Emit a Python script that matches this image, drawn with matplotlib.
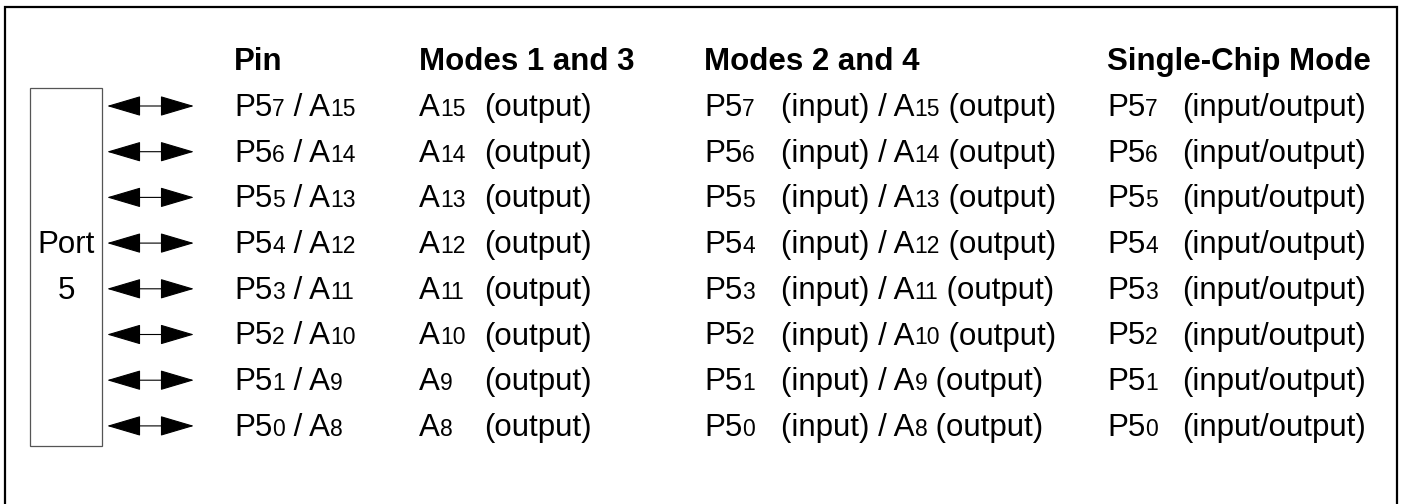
import matplotlib
matplotlib.use("Agg")
import matplotlib.pyplot as plt
from matplotlib.patches import Rectangle

plt.rcParams['font.family'] = ['Liberation Sans', 'DejaVu Sans']

# table content
headers = ["Pin", "Modes 1 and 3", "Modes 2 and 4", "Single-Chip Mode"]
pin_bits = ["7", "6", "5", "4", "3", "2", "1", "0"]
addr_bits = ["15", "14", "13", "12", "11", "10", "9", "8"]
port_label = ["Port", "5"]

W, H = 1402, 504
BIG, SMALL = 22.5, 16.5

fig = plt.figure(figsize=(W / 100, H / 100), dpi=100)
ax = fig.add_axes([0, 0, 1, 1])
ax.set_xlim(0, W)
ax.set_ylim(H, 0)
ax.axis('off')
renderer = fig.canvas.get_renderer()


def runs(x, y, parts, weight='normal'):
    # draw text pieces one after another; small pieces act as the
    # "subscript" digits (same baseline, smaller size)
    for s, size in parts:
        t = ax.text(x, y, s, fontsize=size, fontweight=weight,
                    va='baseline', ha='left', color='black')
        x += t.get_window_extent(renderer).width
    return x


# outer frame (open at the bottom)
ax.plot([5, 5, 1397, 1397], [H + 5, 7, 7, H + 5], color='black', lw=1.6,
        solid_joinstyle='miter')

# port box
ax.add_patch(Rectangle((30, 88), 72, 358, fill=False, ec='#555555', lw=0.9))

col_x = [234, 419, 704, 1107]
head_y = 70
row0, dy = 116, 45.7

for x, h in zip(col_x, headers):
    runs(x, head_y, [(h, BIG)], weight='bold')

for i, (b, a) in enumerate(zip(pin_bits, addr_bits)):
    y = row0 + i * dy
    # arrow
    ya = y - 10
    ax.annotate('', xy=(194, ya), xytext=(107, ya),
                arrowprops=dict(arrowstyle='<|-|>,head_length=22,head_width=6.5',
                                mutation_scale=1, lw=0.8, color='black',
                                shrinkA=0, shrinkB=0))
    runs(col_x[0], y, [("P5", BIG), (b, SMALL), (" / A", BIG), (a, SMALL)])
    runs(col_x[1], y, [("A", BIG), (a, SMALL)])
    runs(484, y, [("(output)", BIG)])
    runs(col_x[2], y, [("P5", BIG), (b, SMALL)])
    runs(781, y, [("(input) / A", BIG), (a, SMALL), (" (output)", BIG)])
    runs(col_x[3], y, [("P5", BIG), (b, SMALL)])
    runs(1182, y, [("(input/output)", BIG)])

for k, lbl in enumerate(port_label):
    ax.text(66, row0 + (3 + k) * dy, lbl, fontsize=BIG, ha='center',
            va='baseline')

fig.savefig("out.png", dpi=100)
